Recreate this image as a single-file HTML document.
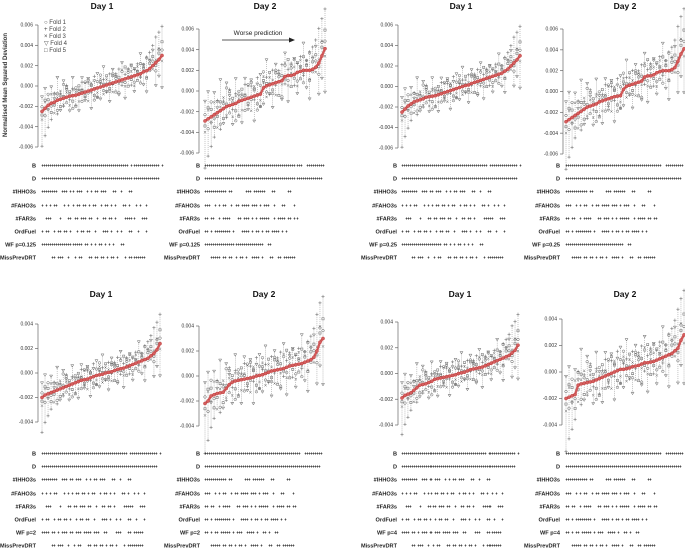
<!DOCTYPE html>
<html><head><meta charset="utf-8"><style>
body{margin:0;background:#fff;}
svg{display:block;font-family:"Liberation Sans",Arial,sans-serif;}
</style></head><body>
<svg id="fig" width="685" height="548" viewBox="0 0 685 548">
<text x="7" y="85" transform="rotate(-90 7 85)" text-anchor="middle" font-size="6" font-weight="bold" fill="#333">Normalised Mean Squared Deviation</text>
<g font-size="6" fill="#444">
<text x="44" y="24">○  Fold 1</text>
<text x="44" y="31">+  Fold 2</text>
<text x="44" y="38">×  Fold 3</text>
<text x="44" y="45">▽  Fold 4</text>
<text x="44" y="52">□  Fold 5</text>
</g>
<g>
<text x="258" y="35" text-anchor="middle" font-size="6.5" fill="#222">Worse prediction</text>
<line x1="222" y1="40" x2="292" y2="40" stroke="#222" stroke-width="0.8"/>
<path d="M295 40 L289 37.5 L289 42.5 Z" fill="#222"/>
</g>
<g id="panels"></g>
</svg>
<script>
// red medians (x1e-3)
const medTL1=[-2.5,-2.2,-1.9,-1.7,-1.6,-1.4,-1.3,-1.2,-1.1,-1.0,-0.95,-0.9,-0.8,-0.7,-0.6,-0.5,-0.4,-0.3,-0.2,-0.1,0,0.1,0.2,0.3,0.4,0.5,0.6,0.7,0.8,0.9,1.0,1.1,1.2,1.4,1.5,1.7,2.0,2.3,2.6,3.0];
const medTL2=[-2.9,-2.7,-2.5,-2.3,-2.1,-1.9,-1.7,-1.5,-1.4,-1.3,-1.2,-1.0,-0.9,-0.8,-0.7,-0.6,-0.5,-0.4,-0.3,0.3,0.5,0.6,0.7,0.8,0.9,1.0,1.4,1.5,1.5,1.6,1.8,1.9,2.0,2.0,2.0,2.1,2.3,2.7,3.4,4.1];
const medTR1=[-2.5,-2.2,-1.9,-1.7,-1.5,-1.4,-1.3,-1.2,-1.05,-1.0,-0.95,-0.9,-0.8,-0.7,-0.6,-0.5,-0.4,-0.3,-0.2,-0.1,0,0.1,0.15,0.3,0.4,0.5,0.6,0.7,0.8,0.9,1.0,1.1,1.2,1.3,1.5,1.7,2.0,2.3,2.6,3.0];
const medTR2=[-2.9,-2.7,-2.5,-2.3,-2.1,-1.9,-1.7,-1.5,-1.4,-1.3,-1.2,-1.0,-0.9,-0.8,-0.7,-0.6,-0.5,-0.45,-0.4,0.2,0.5,0.6,0.7,0.8,0.9,1.0,1.4,1.5,1.5,1.6,1.8,1.9,2.0,2.0,2.0,2.1,2.3,2.9,3.6,4.1];
const medBL1=[-2.0,-1.8,-1.7,-1.6,-1.5,-1.4,-1.3,-1.2,-1.1,-1.0,-0.9,-0.8,-0.7,-0.6,-0.55,-0.5,-0.4,-0.3,-0.2,-0.15,-0.1,0,0.05,0.1,0.2,0.3,0.35,0.4,0.5,0.6,0.7,0.8,0.9,1.0,1.1,1.2,1.4,1.6,1.9,2.4];
const medBL2=[-2.2,-2.0,-1.6,-1.5,-1.4,-1.35,-1.3,-1.0,-0.7,-0.5,-0.4,-0.35,-0.3,-0.25,-0.2,-0.15,-0.1,0,0.05,0.1,0.2,0.3,0.4,0.45,0.5,0.55,0.6,0.7,0.8,0.85,0.9,0.95,1.0,1.1,1.2,1.3,1.5,2.0,2.7,3.0];
const medBR1=[-1.9,-1.7,-1.6,-1.5,-1.3,-1.1,-0.9,-0.85,-0.8,-0.7,-0.6,-0.45,-0.4,-0.35,-0.3,-0.25,-0.2,-0.15,-0.1,0,0.05,0.1,0.2,0.3,0.35,0.4,0.45,0.5,0.6,0.7,0.8,0.9,1.0,1.1,1.2,1.3,1.4,1.6,1.8,2.2];
const medBR2=[-2.0,-1.9,-1.8,-1.7,-1.0,-0.9,-0.85,-0.8,-0.75,-0.7,-0.6,-0.5,-0.4,-0.3,-0.2,-0.1,0,0.1,0.2,0.2,0.25,0.3,0.4,0.45,0.5,0.6,0.7,0.7,0.75,0.8,0.9,1.0,1.1,1.2,1.3,1.4,1.6,1.8,2.4,2.8];
// fold deviations from median (x1e-3)
const fold1=[0.5,-0.8,1.2,-0.3,0.9,-1.1,0.4,1.5,-0.6,0.2,-1.4,0.8,0.3,-0.9,1.1,-0.2,0.6,-1.2,0.7,1.3,-0.5,0.1,-0.8,1.0,0.4,-1.3,0.9,-0.4,0.6,1.2,-0.7,0.3,-1.0,0.8,1.4,-0.2,0.5,-0.9,1.1,0.6];
const fold2=[-3.8,-3.0,-2.4,-1.8,1.0,-1.5,0.6,-0.9,1.3,-0.4,0.8,-1.1,0.5,1.2,-0.6,0.9,-0.3,1.4,-1.0,0.4,0.7,-0.8,1.1,-0.2,0.9,1.3,-0.6,0.5,1.0,-0.9,0.7,1.2,-0.4,0.8,1.5,1.8,2.2,2.8,3.0,3.2];
const fold3=[-0.9,0.7,-0.4,1.0,-1.2,0.3,0.9,-0.7,0.5,-1.0,0.6,0.2,-0.8,0.4,1.0,-1.1,0.8,0.1,-0.5,0.9,-0.9,0.6,0.3,-1.0,0.7,-0.3,1.1,-0.8,0.2,0.6,-1.1,0.9,-0.2,0.5,-0.7,1.0,-0.4,0.3,1.2,-0.6];
const fold4=[1.6,2.2,-0.5,1.8,0.4,2.5,-1.2,1.9,0.8,-1.6,2.0,0.5,-1.8,1.7,-0.9,1.4,-2.0,0.9,1.6,-1.3,2.1,-0.7,-1.9,1.5,0.6,-1.5,1.9,-2.1,0.8,1.3,-1.7,0.4,2.2,-1.4,-2.3,0.9,1.7,-2.5,-1.8,-3.5];
const fold5=[-0.4,0.9,0.6,-1.0,-0.3,0.7,-0.8,0.2,1.1,0.5,-0.6,-1.2,0.9,0.3,-0.4,1.2,0.5,-0.7,-1.0,0.6,0.2,1.0,-0.5,0.8,-1.1,0.4,-0.2,1.3,-0.9,-0.3,0.8,-0.6,1.1,0.4,-0.8,0.6,1.0,-0.3,0.7,1.5];
const topTicks=[-0.006,-0.004,-0.002,0.000,0.002,0.004,0.006];
const botTicks=[-0.004,-0.002,0.000,0.002,0.004];
const rowLabels=["B","D","#IHHO3s","#FAHO3s","#FAR3s","OrdFuel","WF","MissPrevDRT"];
const wfLabels=["WF p=0.125","WF p=0.25","WF p=2","WF p=4"];
const rowsDay1=[
"+++++++++++++++++++++++++++++++++++++++++++ ++++++++++++++ +",
"++++++++++++++++++++++++++++++++++++++++++++++++++++++++++",
"++++++++  +++ ++ +++  + + ++ +++   ++  +   ++",
"+ + + ++   + + + ++ ++ + ++  + ++ + +   ++ +  + +  +",
"  +++    +   ++ ++ +++ ++  +  ++ ++ +    +++++   +++",
"+ ++  + ++ ++ +  + ++ ++  +   +++ +  + +   ++  +   +",
"++++++++++++++++++++ ++ + + ++ + + +   ++",
"     ++ +++  +  + ++   ++ ++ ++ + ++ +   + ++++++++"];
const rowsDay2=[
"++++++++++++++++++++++++++++++++++++++++++++++++  +++++++++",
"++++++++++++++++++++++++++++++++++++++++++++++++++++++++++",
"+++++++++++ ++      +++ ++++++   ++      ++",
"+++  + + ++  + ++ ++++ +++ + +++  +   ++    +",
"++ ++  + ++++   ++ +++ + + +++++  + ++++ ++ ++",
"++ + ++++++++ +   ++++ + ++ + ++ ++++ + +",
"+++++++++++++++++++++++++++++  ++",
"   +++++ ++ ++ + ++ +  ++++ +   ++  ++ ++++++"];
const wfBottomDay1="++++ ++ + +++ ++ +++ ++++ +++  ++    +++   ++ +++++";
const wfBottomDay2="++ + ++ +++++ + +++  ++++ +  ++ +  ++";

const NS="http://www.w3.org/2000/svg";
const root=document.getElementById('panels');
function mk(tag,attrs,parent){const e=document.createElementNS(NS,tag);for(const k in attrs)e.setAttribute(k,attrs[k]);parent.appendChild(e);return e;}

const panels=[
 {med:medTL1,day:1,ax:38,x0:42,x1:162,ticks:topTicks,yTop:25,yBot:147,scale:0.9,title:9,rowY:165,wf:0,lblX:36,nm:"p0125-day1"},
 {med:medTL2,day:2,ax:199,x0:205,x1:325,ticks:topTicks,yTop:29,yBot:153,scale:1.2,title:9,rowY:165,wf:0,lblX:200,nm:"p0125-day2"},
 {med:medTR1,day:1,ax:398,x0:402,x1:520,ticks:topTicks,yTop:25,yBot:148,scale:0.9,title:9,rowY:165,wf:1,lblX:397,nm:"p025-day1"},
 {med:medTR2,day:2,ax:563,x0:566,x1:684,ticks:topTicks,yTop:29,yBot:154,scale:1.2,title:9,rowY:165,wf:1,lblX:560,nm:"p025-day2"},
 {med:medBL1,day:1,ax:38,x0:42,x1:160,ticks:botTicks,yTop:324,yBot:422,scale:0.75,title:297,rowY:453,wf:2,lblX:36,nm:"p2-day1"},
 {med:medBL2,day:2,ax:199,x0:205,x1:323,ticks:botTicks,yTop:326,yBot:426,scale:1.05,title:297,rowY:453,wf:2,lblX:200,nm:"p2-day2"},
 {med:medBR1,day:1,ax:398,x0:402,x1:518,ticks:botTicks,yTop:322,yBot:425,scale:0.75,title:297,rowY:453,wf:3,lblX:397,nm:"p4-day1"},
 {med:medBR2,day:2,ax:562,x0:566,x1:684,ticks:botTicks,yTop:319,yBot:425,scale:1.05,title:297,rowY:453,wf:3,lblX:560,nm:"p4-day2"}
];
const folds=[fold1,fold2,fold3,fold4,fold5];

panels.forEach(p=>{
 const g=mk('g',{},root);
 
 
 const tmin=p.ticks[0],tmax=p.ticks[p.ticks.length-1];
 const yS=v=>p.yBot+(v-tmin)/(tmax-tmin)*(p.yTop-p.yBot);
 const n=p.med.length;
 const xS=i=>p.x0+i*(p.x1-p.x0)/(n-1);
 const t=mk('text',{x:(p.x0+p.x1)/2,y:p.title,'text-anchor':'middle','font-size':'8.5','font-weight':'bold',fill:'#111'},g);
 t.textContent='Day '+p.day;
 
 
 const axg=mk('g',{},g);
 
 
 mk('line',{x1:p.ax,x2:p.ax,y1:yS(tmin),y2:yS(tmax),stroke:'#666','stroke-width':0.7},axg);
 p.ticks.forEach(v=>{
  mk('line',{x1:p.ax-3,x2:p.ax,y1:yS(v),y2:yS(v),stroke:'#666','stroke-width':0.7},axg);
  const tl=mk('text',{x:p.ax-5,y:yS(v)+1.7,'text-anchor':'end','font-size':'5',fill:'#333'},axg);
  tl.textContent=v.toFixed(3);
  
  
 });
 const pg=mk('g',{},g);
 
 
 for(let i=0;i<n;i++){
  const x=xS(i);
  const vals=folds.map(f=>p.med[i]+f[i]*p.scale);
  const lo=Math.min(...vals),hi=Math.max(...vals);
  mk('line',{x1:x,x2:x,y1:yS(lo/1000),y2:yS(hi/1000),stroke:'#888','stroke-width':0.5,'stroke-dasharray':'1,1'},pg);
  vals.forEach((v,k)=>{
   const y=yS(v/1000);const c='#666';
   let m;
   if(k===0)m=mk('circle',{cx:x,cy:y,r:1.3,fill:'none',stroke:c,'stroke-width':0.5},pg);
   else if(k===1)m=mk('path',{d:`M${x-1.6} ${y}H${x+1.6}M${x} ${y-1.6}V${y+1.6}`,stroke:c,'stroke-width':0.5},pg);
   else if(k===2)m=mk('path',{d:`M${x-1.2} ${y-1.2}L${x+1.2} ${y+1.2}M${x-1.2} ${y+1.2}L${x+1.2} ${y-1.2}`,stroke:c,'stroke-width':0.5},pg);
   else if(k===3)m=mk('path',{d:`M${x-1.5} ${y-1}H${x+1.5}L${x} ${y+1.5}Z`,fill:'none',stroke:c,'stroke-width':0.5},pg);
   else m=mk('rect',{x:x-1.1,y:y-1.1,width:2.2,height:2.2,fill:'none',stroke:c,'stroke-width':0.5},pg);
   
   
  });
 }
 const mg=mk('g',{},g);
 
 
 let pd='';
 for(let i=0;i<n;i++)pd+=(i?'L':'M')+xS(i)+' '+yS(p.med[i]/1000);
 mk('path',{d:pd,fill:'none',stroke:'#d05a5a','stroke-width':2.4},mg);
 for(let i=0;i<n;i++){
  const c=mk('circle',{cx:xS(i),cy:yS(p.med[i]/1000),r:1.6,fill:'#d46060',stroke:'#b33','stroke-width':0.4},mg);
  
  
 }
 const rows=(p.day===1?rowsDay1:rowsDay2).slice();
 if(p.wf>=2)rows[6]=p.day===1?wfBottomDay1:wfBottomDay2;
 const rg=mk('g',{},g);
 
 
 rows.forEach((s,r)=>{
  const y=Math.round(p.rowY+r*13.2)+0.5;
  const lb=mk('text',{x:p.lblX,y:y+2,'text-anchor':'end','font-size':'5.6','font-weight':'bold',fill:'#222'},rg);
  lb.textContent=r===6?wfLabels[p.wf]:rowLabels[r];
  
  
  let d='';
  const step=(p.x1-p.x0)/59;
  for(let j=0;j<s.length;j++){if(s[j]==='+'){const x=Math.round(p.x0+j*step)+0.5;d+=`M${x-1} ${y}H${x+1}M${x} ${y-1.1}V${y+1.1}`;}}
  const pm=mk('path',{d:d,stroke:'#222','stroke-width':0.6},rg);
  
  
 });
});
</script>
</body></html>
